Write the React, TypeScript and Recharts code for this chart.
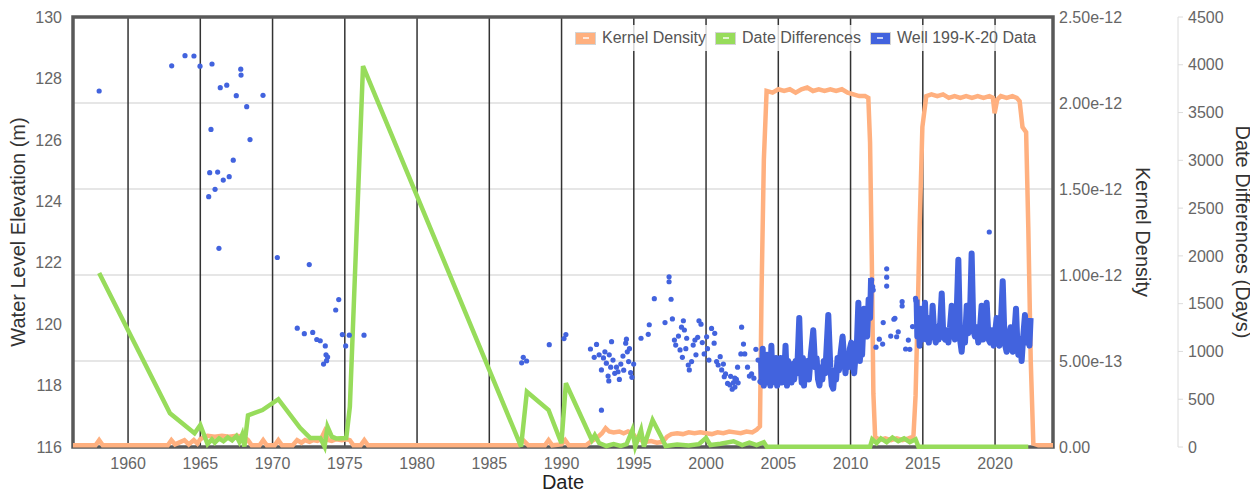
import React from 'react';
import { ComposedChart, Line, Scatter, XAxis, YAxis, CartesianGrid, Legend, ReferenceArea } from 'recharts';

const FONT = '"Liberation Sans", Arial, sans-serif';
const KD_COLOR = '#ffb07f';
const DD_COLOR = '#97dc5b';
const WELL_COLOR = '#4263de';

const X_MIN = 1956.19;
const X_MAX = 2024.01;
const yearTicks = [1960, 1965, 1970, 1975, 1980, 1985, 1990, 1995, 2000, 2005, 2010, 2015, 2020];
const levelTicks = [116, 118, 120, 122, 124, 126, 128, 130];
const kdTicks = [0, 0.5, 1, 1.5, 2, 2.5]; // in units of 1e-12
const ddTicks = [0, 500, 1000, 1500, 2000, 2500, 3000, 3500, 4000, 4500];

// kernel density of sample dates (units of 1e-12)
const kdYears = [
  1956.19, 1957.75, 1958.0, 1958.25, 1962.75, 1963.0, 1963.25, 1963.9, 1964.2, 1964.55, 1964.8, 1965.0,
  1965.3, 1965.5, 1966.0, 1966.5, 1967.0, 1967.5, 1968.0, 1968.3, 1968.55, 1969.1, 1969.35, 1969.6,
  1970.15, 1970.4, 1970.65, 1971.4, 1971.7, 1972.0, 1972.25, 1972.55, 1972.8, 1973.1, 1973.35, 1973.6,
  1973.85, 1974.1, 1974.4, 1974.8, 1975.1, 1975.35, 1975.6, 1976.1, 1976.35, 1976.6, 1987.0, 1987.35,
  1987.7, 1988.85, 1989.1, 1989.35, 1990.0, 1990.25, 1990.5, 1991.7, 1992.0, 1992.4, 1992.8, 1993.05,
  1993.3, 1993.6, 1994.0, 1994.3, 1994.6, 1994.9, 1995.2, 1995.5, 1995.8, 1996.2, 1996.6, 1997.0,
  1997.3, 1997.6, 1998.0, 1998.4, 1998.8, 1999.2, 1999.6, 2000.0, 2000.4, 2000.8, 2001.2, 2001.6,
  2002.0, 2002.4, 2002.8, 2003.2, 2003.5, 2003.73, 2003.84, 2004.0, 2004.19, 2004.6, 2005.0, 2005.4,
  2005.8, 2006.2, 2006.6, 2007.0, 2007.4, 2007.8, 2008.2, 2008.6, 2009.0, 2009.4, 2009.8, 2010.2,
  2010.6, 2011.0, 2011.23, 2011.35, 2011.47, 2011.58, 2011.7, 2012.0, 2012.4, 2012.8, 2013.2, 2013.6,
  2014.0, 2014.35, 2014.5, 2014.68, 2014.78, 2014.97, 2015.24, 2015.6, 2016.0, 2016.4, 2016.8, 2017.2,
  2017.6, 2018.0, 2018.4, 2018.8, 2019.2, 2019.6, 2019.85, 2019.97, 2020.15, 2020.4, 2020.8, 2021.2,
  2021.5, 2021.7, 2021.9, 2022.15, 2022.3, 2022.47, 2022.65, 2023.0, 2024.01,
];
const kdValues = [
  0.01, 0.01, 0.04, 0.01, 0.01, 0.04, 0.015, 0.04, 0.015, 0.04, 0.02, 0.045,
  0.06, 0.065, 0.06, 0.065, 0.06, 0.065, 0.06, 0.04, 0.01, 0.01, 0.04, 0.01,
  0.01, 0.04, 0.01, 0.01, 0.04, 0.025, 0.04, 0.03, 0.04, 0.035, 0.045, 0.09,
  0.04, 0.035, 0.045, 0.04, 0.045, 0.04, 0.01, 0.01, 0.04, 0.01, 0.01, 0.04,
  0.01, 0.01, 0.04, 0.01, 0.015, 0.04, 0.01, 0.01, 0.03, 0.05, 0.08, 0.11,
  0.09, 0.085, 0.09, 0.08, 0.09, 0.08, 0.05, 0.04, 0.03, 0.035, 0.025, 0.03,
  0.06, 0.075, 0.08, 0.075, 0.085, 0.08, 0.085, 0.08, 0.075, 0.085, 0.08, 0.09,
  0.085, 0.08, 0.09, 0.085, 0.1, 0.12, 0.9, 1.67, 2.07, 2.06, 2.08, 2.07,
  2.08, 2.06, 2.08, 2.09, 2.07, 2.08, 2.07, 2.08, 2.07, 2.08, 2.06, 2.05,
  2.04, 2.04, 2.03, 1.77, 1.09, 0.31, 0.06, 0.04, 0.05, 0.04, 0.05, 0.04,
  0.05, 0.06, 0.3, 0.9, 1.28, 1.86, 2.04, 2.05, 2.04, 2.05, 2.03, 2.04,
  2.03, 2.04, 2.03, 2.04, 2.03, 2.04, 2.03, 1.94, 2.02, 2.04, 2.03, 2.04,
  2.03, 2.01, 1.86, 1.83, 1.28, 0.5, 0.02, 0.01, 0.01,
];

// days to the next measurement
const ddYears = [
  1958.0, 1962.9, 1964.6, 1965.0, 1965.5, 1965.8, 1966.0, 1966.3, 1966.6, 1966.9, 1967.2, 1967.5,
  1967.7, 1967.9, 1968.05, 1968.15, 1968.3, 1969.3, 1970.4, 1971.9, 1972.6, 1973.3, 1973.6, 1973.8,
  1974.1, 1974.4, 1975.1, 1975.35, 1976.26, 1987.2, 1987.6, 1989.1, 1989.99, 1990.3, 1992.1, 1992.3,
  1992.6, 1993.1, 1993.6, 1994.1, 1994.5, 1994.9, 1995.1, 1995.5, 1995.7, 1996.3, 1996.9, 1997.2,
  1998.0, 1998.8, 1999.5, 2000.0, 2000.3, 2001.0, 2001.9, 2002.5, 2003.0, 2003.5, 2004.0, 2004.2,
  2011.35, 2011.5, 2011.8, 2012.1, 2012.5, 2012.9, 2013.3, 2013.7, 2014.1, 2014.5, 2014.7, 2022.3,
];
const ddDays = [
  1821, 353, 143, 230, 31, 80, 45, 90, 60, 100, 70, 115,
  55, 130, 5, 140, 330, 387, 500, 200, 95, 95, 5, 213,
  108, 90, 94, 420, 3987, 5, 579, 387, 39, 667, 73, 125,
  42, 10, 30, 12, 30, 178, 5, 178, 5, 283, 108, 10,
  25, 15, 30, 95, 20, 35, 60, 20, 45, 20, 50, 3,
  3, 80, 40, 90, 50, 100, 60, 90, 50, 80, 3, 3,
];

// manual water level readings
const wellYears = [
  1958.0, 1963.02, 1963.94, 1964.56, 1964.98, 1965.81, 1967.8, 1967.82, 1966.38, 1966.83, 1967.49, 1969.34,
  1968.21, 1965.74, 1968.44, 1967.28, 1965.65, 1966.2, 1967.0, 1966.59, 1966.02, 1965.58, 1966.29, 1970.33,
  1972.54, 1974.58, 1974.37, 1971.71, 1972.2, 1972.78, 1973.06, 1973.3, 1973.65, 1973.7, 1973.81, 1973.74,
  1973.53, 1974.83, 1975.31, 1975.06, 1976.33, 1987.24, 1987.35, 1987.58, 1989.15, 1990.17, 1990.3, 1992.0,
  1992.42, 1992.26, 1993.0, 1993.46, 1993.1, 1992.76, 1993.22, 1993.27, 1993.56, 1993.68, 1993.91, 1994.1,
  1994.25, 1994.44, 1994.49, 1994.55, 1994.64, 1994.78, 1994.87, 1994.99, 1992.76, 1992.9, 1993.3, 1993.8,
  1994.0, 1994.3, 1993.4, 1992.6, 1994.7, 1995.5, 1996.0, 1996.07, 1996.42, 1997.16, 1997.44, 1997.44,
  1997.58, 1997.67, 1997.81, 1997.9, 1998.09, 1998.2, 1998.36, 1998.5, 1998.43, 1998.66, 1998.77, 1998.84,
  1999.0, 1999.11, 1999.23, 1999.42, 1999.51, 1999.65, 1999.74, 1999.87, 2000.04, 2000.2, 2000.38, 2000.56,
  2000.73, 2000.84, 2000.98, 2001.08, 2001.26, 2001.35, 2001.49, 2001.65, 2001.81, 2001.99, 2002.18, 2002.22,
  2002.46, 2002.59, 2002.41, 2002.68, 2002.87, 2003.0, 2003.15, 2003.31, 2003.45, 2003.6, 2003.73, 1998.3,
  1998.6, 1999.3, 2000.1, 2000.6, 2001.2, 2001.7, 2002.0, 2001.9, 2002.1, 2011.46, 2011.53, 2011.57,
  2011.76, 2011.99, 2012.26, 2012.22, 2012.5, 2012.5, 2012.5, 2012.78, 2013.0, 2013.07, 2013.19, 2013.3,
  2013.57, 2013.57, 2013.81, 2014.0, 2014.1, 2014.29, 2014.5, 2014.52, 2019.6,
];
const wellLevels = [
  127.59, 128.41, 128.74, 128.73, 128.4, 128.47, 128.3, 128.11, 127.7, 127.78, 127.44, 127.45,
  127.08, 126.34, 126.01, 125.34, 124.93, 124.95, 124.8, 124.69, 124.39, 124.15, 122.47, 122.17,
  121.94, 120.8, 120.46, 119.87, 119.69, 119.73, 119.5, 119.46, 119.29, 119.0, 118.93, 118.81,
  118.7, 119.66, 119.64, 119.29, 119.64, 118.74, 118.92, 118.8, 119.33, 119.53, 119.66, 119.19,
  119.34, 118.92, 119.1, 119.43, 118.73, 118.51, 118.31, 118.15, 118.83, 118.4, 118.45, 118.7,
  118.96, 119.38, 119.51, 119.1, 118.78, 118.42, 118.27, 118.7, 117.2, 118.9, 119.0, 118.6,
  118.2, 118.5, 118.6, 119.0, 119.2, 119.54, 119.67, 119.98, 120.83, 120.05, 121.54, 121.38,
  120.81, 120.17, 119.48, 119.32, 119.61, 119.16, 118.92, 119.81, 120.11, 119.54, 118.67, 118.51,
  118.78, 119.32, 119.48, 119.57, 120.11, 120.0, 119.4, 119.03, 119.59, 118.83, 119.86, 119.38,
  118.78, 118.67, 118.94, 118.51, 118.29, 118.38, 118.07, 118.02, 117.88, 118.24, 118.6, 118.09,
  119.9, 119.35, 119.03, 119.03, 118.6, 118.31, 118.38, 118.24, 119.18, 118.83, 118.13, 119.9,
  119.2, 119.0, 119.2, 119.7, 118.7, 118.3, 117.95, 118.1, 118.2, 121.44, 121.22, 121.11,
  119.25, 119.51, 120.05, 119.35, 121.8, 121.53, 121.24, 119.61, 120.16, 120.19, 119.59, 119.75,
  120.73, 120.59, 119.19, 119.48, 119.18, 119.92, 120.84, 120.77, 123.0,
];

// logger record, 2003-2011 and 2014-2022 (null = gap)
const loggerYears = [
  2003.8, 2003.85, 2003.92, 2004.0, 2004.08, 2004.15, 2004.22, 2004.3, 2004.38, 2004.45, 2004.52, 2004.6,
  2004.68, 2004.76, 2004.84, 2004.92, 2005.0, 2005.08, 2005.16, 2005.24, 2005.32, 2005.4, 2005.5, 2005.6,
  2005.68, 2005.76, 2005.84, 2005.92, 2006.0, 2006.1, 2006.2, 2006.3, 2006.45, 2006.55, 2006.62, 2006.7,
  2006.78, 2006.86, 2006.94, 2007.02, 2007.12, 2007.25, 2007.42, 2007.55, 2007.65, 2007.75, 2007.85, 2007.95,
  2008.05, 2008.15, 2008.25, 2008.46, 2008.6, 2008.7, 2008.8, 2008.9, 2009.0, 2009.1, 2009.2, 2009.3,
  2009.45, 2009.55, 2009.65, 2009.75, 2009.85, 2009.95, 2010.05, 2010.15, 2010.25, 2010.35, 2010.45, 2010.54,
  2010.64, 2010.72, 2010.8, 2010.93, 2011.05, 2011.15, 2011.25, 2011.35, 2011.42, 2013.0,
  2014.57, 2014.62, 2014.7, 2014.78, 2014.86, 2014.94, 2015.02, 2015.08, 2015.15, 2015.25, 2015.35, 2015.42,
  2015.5, 2015.58, 2015.68, 2015.8, 2015.9, 2016.0, 2016.1, 2016.2, 2016.31, 2016.42, 2016.54, 2016.66,
  2016.77, 2016.88, 2017.0, 2017.11, 2017.22, 2017.32, 2017.46, 2017.58, 2017.69, 2017.8, 2017.92, 2018.04,
  2018.15, 2018.25, 2018.38, 2018.5, 2018.61, 2018.72, 2018.84, 2018.95, 2019.07, 2019.17, 2019.28, 2019.42,
  2019.55, 2019.65, 2019.78, 2019.9, 2020.0, 2020.11, 2020.3, 2020.42, 2020.53, 2020.66, 2020.8, 2020.94,
  2021.08, 2021.15, 2021.22, 2021.35, 2021.45, 2021.55, 2021.61, 2021.72, 2021.84, 2021.95, 2022.07, 2022.18,
  2022.3, 2022.38, 2022.46,
];
const loggerLevels = [
  118.9, 118.1, 119.2, 118.0, 118.9, 118.1, 119.0, 118.2, 118.8, 118.0, 119.3, 118.1,
  118.7, 118.2, 118.9, 118.0, 118.8, 118.3, 118.9, 118.1, 118.7, 118.2, 119.3, 118.0,
  118.8, 118.2, 118.6, 118.1, 118.7, 118.2, 118.8, 118.4, 120.2, 118.6, 118.1, 118.9,
  118.0, 118.7, 118.3, 118.8, 118.2, 119.0, 119.8, 118.6, 118.9, 118.2, 118.0, 118.6,
  118.2, 118.8, 118.4, 120.3, 118.6, 118.0, 117.9, 118.5, 118.2, 118.9, 118.5, 119.0,
  119.6, 118.9, 118.4, 119.0, 118.6, 119.2, 119.4, 118.7, 118.4, 119.0, 119.5, 120.7,
  118.8, 119.3, 119.0, 120.5, 119.7, 119.6, 120.8, 120.2, 121.5, null,
  120.8, 119.6, 120.4, 119.3, 120.5, 119.5, 120.3, 119.6, 120.7, 119.5, 120.0, 119.4,
  120.2, 119.6, 120.6, 119.6, 119.4, 119.9, 119.5, 120.0, 121.0, 119.6, 119.5, 119.8,
  119.4, 119.9, 120.6, 119.9, 119.5, 120.0, 122.1, 119.5, 119.1, 119.8, 119.4, 120.6,
  119.7, 120.0, 122.3, 119.8, 119.6, 119.9, 119.4, 119.8, 120.6, 119.5, 119.9, 120.7,
  119.5, 119.4, 119.8, 119.3, 119.7, 120.2, 119.3, 120.2, 121.4, 119.4, 119.1, 119.6,
  119.9, 119.2, 119.1, 119.8, 120.5, 119.3, 119.0, 119.5, 118.8, 119.6, 120.3, 119.4,
  119.6, 119.3, 120.2,
];

const kdData = kdYears.map((year, i) => ({ year, kd: kdValues[i] }));
const ddData = ddYears.map((year, i) => ({ year, dd: ddDays[i] }));
const wellData = wellYears.map((year, i) => ({ year, wl: wellLevels[i] }));
const loggerData = loggerYears.map((year, i) => ({ year, wl: loggerLevels[i] }));

const legendItems = [
  { name: 'Kernel Density', color: KD_COLOR },
  { name: 'Date Differences', color: DD_COLOR },
  { name: 'Well 199-K-20 Data', color: WELL_COLOR },
];

const tickStyle = { fill: '#666', fontSize: 16, fontFamily: FONT };
const titleStyle = { fill: '#333', fontSize: 20, fontFamily: FONT, textAnchor: 'middle' as const };

const renderLegend = () => (
  <div
    style={{
      display: 'flex',
      alignItems: 'center',
      height: 26,
      padding: '0 6px 0 8px',
      background: 'rgba(255,255,255,0.8)',
      fontFamily: FONT,
      fontSize: 16,
      color: '#555',
      whiteSpace: 'nowrap',
    }}
  >
    {legendItems.map((item) => (
      <div key={item.name} style={{ display: 'flex', alignItems: 'center', marginRight: 9 }}>
        <span
          style={{
            width: 19,
            height: 11,
            background: item.color,
            border: '1px solid #d4d4d4',
            display: 'flex',
            alignItems: 'center',
            justifyContent: 'center',
            marginRight: 6,
          }}
        >
          <span style={{ width: 6, height: 2, background: 'rgba(255,255,255,0.7)' }} />
        </span>
        {item.name}
      </div>
    ))}
  </div>
);

const formatKd = (v: number) => (v === 0 ? '0.00' : (v * 1e-12).toExponential(2));

export default function App() {
  return (
    <div style={{ position: 'relative', width: 1250, height: 485 }}>
      <ComposedChart width={1250} height={485} margin={{ top: 9, right: 0, bottom: 0, left: 0 }}>
        <XAxis
          dataKey="year"
          type="number"
          domain={[X_MIN, X_MAX]}
          ticks={yearTicks}
          allowDataOverflow
          height={46}
          axisLine={false}
          tickLine={false}
          tickSize={6}
          tickMargin={5}
          tick={tickStyle}
          label={{ value: 'Date', position: 'insideBottom', offset: 4, style: { ...titleStyle, fill: '#222' } }}
        />
        <YAxis
          yAxisId="wl"
          dataKey="wl"
          type="number"
          domain={[116, 130]}
          ticks={levelTicks}
          width={65}
          axisLine={false}
          tickLine={false}
          tickSize={6}
          tickMargin={5}
          tick={tickStyle}
          label={{ value: 'Water Level Elevation (m)', angle: -90, position: 'insideLeft', offset: 10, style: titleStyle }}
        />
        <YAxis
          yAxisId="r2"
          orientation="right"
          type="number"
          domain={[0, 4500]}
          ticks={ddTicks}
          width={80}
          axisLine={{ stroke: '#dcdcdc' }}
          tickLine={{ stroke: '#dcdcdc' }}
          tickSize={5}
          tickMargin={5}
          tick={tickStyle}
          label={{ value: 'Date Differences (Days)', angle: 90, position: 'insideRight', offset: 15, style: titleStyle }}
        />
        <YAxis
          yAxisId="r1"
          orientation="right"
          type="number"
          domain={[0, 2.5]}
          ticks={kdTicks}
          tickFormatter={formatKd}
          width={125}
          axisLine={false}
          tickLine={false}
          tickSize={0}
          tickMargin={6}
          tick={tickStyle}
          label={{ value: 'Kernel Density', angle: 90, position: 'insideRight', offset: 35, style: titleStyle }}
        />
        <CartesianGrid yAxisId="r1" vertical={false} stroke="#dedede" strokeWidth={1.5} />
        <CartesianGrid yAxisId="r1" horizontal={false} stroke="#333" strokeWidth={1.5} />
        <Legend
          layout="horizontal"
          verticalAlign="middle"
          align="center"
          wrapperStyle={{ top: 17, left: 559, width: 'auto' }}
          content={renderLegend}
        />
        <Line
          yAxisId="r1"
          data={kdData}
          dataKey="kd"
          name="Kernel Density"
          stroke={KD_COLOR}
          strokeWidth={4.5}
          dot={false}
          isAnimationActive={false}
        />
        <Line
          yAxisId="r2"
          data={ddData}
          dataKey="dd"
          name="Date Differences"
          stroke={DD_COLOR}
          strokeWidth={4.5}
          dot={false}
          isAnimationActive={false}
        />
        <Line
          yAxisId="wl"
          data={loggerData}
          dataKey="wl"
          legendType="none"
          stroke={WELL_COLOR}
          strokeWidth={6}
          strokeLinejoin="round"
          dot={false}
          connectNulls={false}
          isAnimationActive={false}
        />
        <Scatter
          yAxisId="wl"
          data={wellData}
          dataKey="wl"
          name="Well 199-K-20 Data"
          fill={WELL_COLOR}
          shape={(p: any) => <circle cx={p.cx} cy={p.cy} r={2.6} fill={WELL_COLOR} />}
          isAnimationActive={false}
        />
        <ReferenceArea
          yAxisId="wl"
          x1={X_MIN}
          x2={X_MAX}
          y1={116}
          y2={130}
          fill="none"
          stroke="#595959"
          strokeWidth={3.5}
          ifOverflow="visible"
        />
      </ComposedChart>
    </div>
  );
}
